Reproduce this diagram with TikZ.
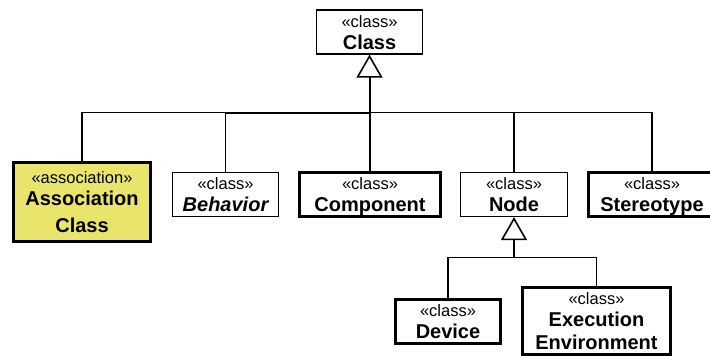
\documentclass[tikz,border=0pt]{standalone}
\usepackage{fontspec}
\setmainfont{Liberation Sans}
\usetikzlibrary{arrows.meta}
\definecolor{assocyellow}{RGB}{233,229,108}
\newcommand{\stereo}[1]{\rule{0pt}{17pt}{\fontsize{16.5}{20}\selectfont\mdseries\upshape «#1»}}
\newcommand{\lastdepth}{\rule[-5pt]{0pt}{5pt}}

\begin{document}
\begin{tikzpicture}[x=1pt, y=-1pt,
        classbox/.style = {draw, fill=white, line width=1.2pt, align=center, inner sep=0pt,
            font=\fontsize{20}{24}\selectfont\bfseries, execute at end node=\lastdepth},
        heavybox/.style = {classbox, line width=3pt},
        link/.style = {line width=1.2pt},
        inherit/.style = {-{Triangle[open, length=23pt, width=26pt, line width=1.6pt]}, line width=1.6pt}]
        \clip (0,0) rectangle (710,356);

        % Top
        \node[classbox, minimum width=106pt, minimum height=44pt] (cls) at (369.5,32) {\stereo{class}\\[-2pt]Class};
        \coordinate (tophub) at (369.5,112.7);

        % Second row
        \node[heavybox, fill=assocyellow, minimum width=137pt, minimum height=79pt] (assoc) at (82,201.7)
            {\stereo{association}\\[-2pt]Association\\[3pt]Class};
        \node[classbox, minimum width=106pt, minimum height=43.7pt] (behav) at (225.5,194.3) {\stereo{class}\\[-2pt]{\itshape Behavior}};
        \node[heavybox, minimum width=141pt, minimum height=42pt] (comp) at (370,194.3) {\stereo{class}\\[-2pt]Component};
        \node[classbox, minimum width=107pt, minimum height=44pt] (nd) at (514,194.5) {\stereo{class}\\[-2pt]Node};
        \node[heavybox, minimum width=127pt, minimum height=42.7pt] (stype) at (652,194.8) {\stereo{class}\\[-2pt]Stereotype};

        \draw[inherit, line width=2pt] (tophub) -- (cls.south);
        \draw[link] (assoc.north) |- (tophub);
        \draw[link] (behav.north) |- (tophub);
        \draw[line width=2pt] (behav.north |- tophub) -- (tophub);
        \draw[link] (comp.north) |- (tophub);
        \draw[link] (nd.north) |- (tophub);
        \draw[link] (stype.north) |- (tophub);

        % Third row
        \coordinate (ndhub) at (514,257.7);
        \node[heavybox, minimum width=105pt, minimum height=43pt] (dev) at (448,321) {\stereo{class}\\[-2pt]Device};
        \node[heavybox, minimum width=148pt, minimum height=65.3pt] (exec) at (596.5,320.8)
            {\stereo{class}\\[-2pt]Execution\\[-1pt]Environment};

        \draw[inherit] (ndhub) -- (nd.south);
        \draw[link] (dev.north) |- (ndhub);
        \draw[link] (exec.north) |- (ndhub);
    \end{tikzpicture}
\end{document}
